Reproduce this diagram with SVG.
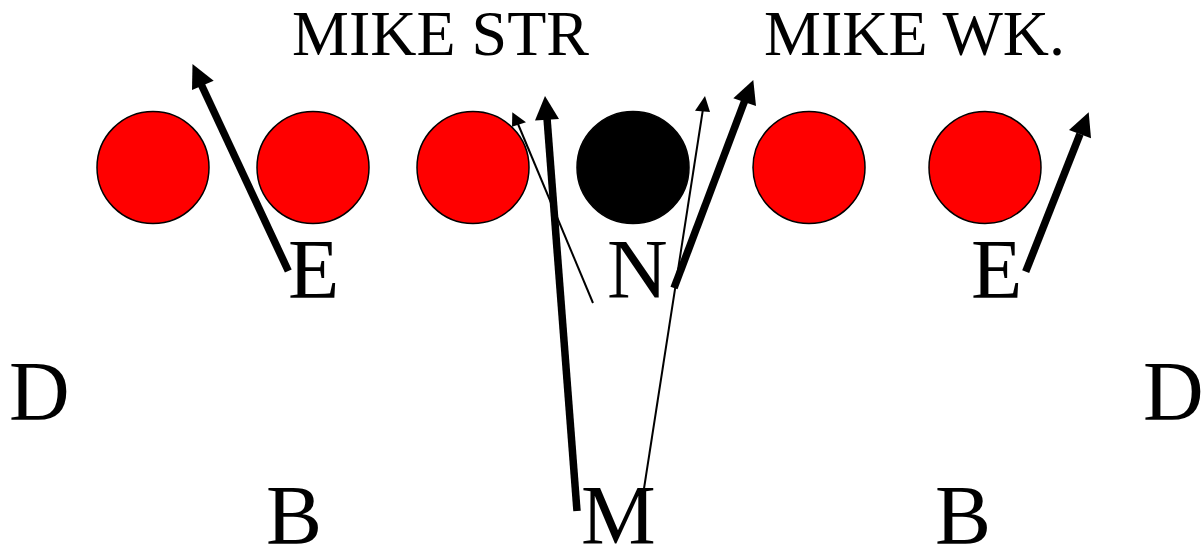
<svg xmlns="http://www.w3.org/2000/svg" width="1201" height="547" viewBox="0 0 1201 547">
<style>
.p{fill:#f00;stroke:#000;stroke-width:1.5}
.k{fill:#000;stroke:#000;stroke-width:1.5}
text{font-family:"Liberation Serif","Times New Roman",serif;fill:#000}
.b{font-size:84px}
.t{font-size:64px}
.thick{stroke:#000;stroke-width:7.500;fill:none}
.thin{stroke:#000;stroke-width:2;fill:none}
</style>
<rect width="1201" height="547" fill="#fff"/>
<g id="nodes">
<g id="c1"><circle class="p" cx="153" cy="167.500" r="56"/></g>
<g id="c2"><circle class="p" cx="313" cy="167.500" r="56"/></g>
<g id="c3"><circle class="p" cx="473" cy="167.500" r="56"/></g>
<g id="c4"><circle class="k" cx="633" cy="167.500" r="56"/></g>
<g id="c5"><circle class="p" cx="809" cy="167.500" r="56"/></g>
<g id="c6"><circle class="p" cx="985" cy="167.500" r="56"/></g>
<g id="l1"><text class="t" x="292" y="55">MIKE STR</text></g>
<g id="l2"><text class="t" x="764" y="55">MIKE WK.</text></g>
<g id="l3"><text class="b" x="288" y="298">E</text></g>
<g id="l4"><text class="b" x="607" y="298">N</text></g>
<g id="l5"><text class="b" x="971" y="298">E</text></g>
<g id="l6"><text class="b" x="9" y="420">D</text></g>
<g id="l7"><text class="b" x="1143" y="420">D</text></g>
<g id="l8"><text class="b" x="266" y="544">B</text></g>
<g id="l9"><text class="b" x="581" y="544">M</text></g>
<g id="l10"><text class="b" x="935" y="544">B</text></g>
</g>
<g id="connectors">
<line class="thick" x1="288.300" y1="271" x2="201" y2="84"/><polygon points="192.500,64 213.700,80.700 192,90"/>
<line class="thick" x1="577" y1="511" x2="547" y2="118"/><polygon points="545,96 559,119 535,120.500"/>
<line class="thick" x1="674" y1="288" x2="745" y2="100"/><polygon points="753.300,80 756,106 733.300,98.300"/>
<line class="thick" x1="1025.700" y1="271.700" x2="1080" y2="134"/><polygon points="1088.700,112.300 1091,138.300 1069,130"/>
<line class="thin" x1="593" y1="303" x2="518" y2="124"/><polygon points="512.300,112.300 526,122.300 512,126.700"/>
<line class="thin" x1="643" y1="495" x2="703" y2="109"/><polygon points="705,96 710,112 695,110.700"/>
</g>
</svg>
